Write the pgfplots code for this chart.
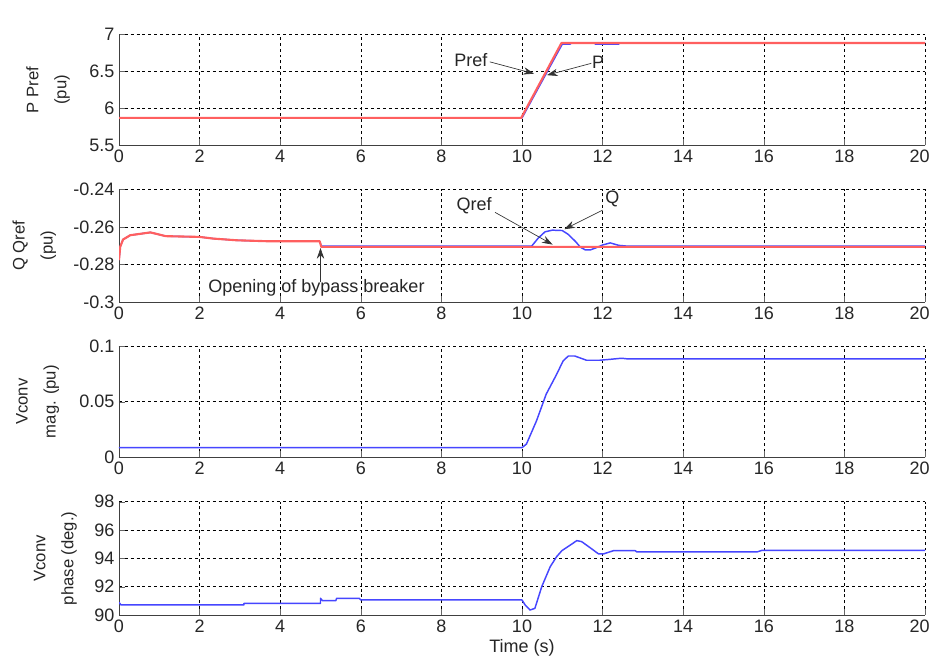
\documentclass[border=0pt]{standalone}
\usepackage{fontspec}
\setmainfont{Liberation Sans}
\usepackage{pgfplots}
\pgfplotsset{compat=1.18}
\usetikzlibrary{arrows.meta}
\definecolor{qblue}{RGB}{70,70,255}
\definecolor{qred}{RGB}{255,95,95}
\tikzset{
  arr/.style={-{Stealth[length=8pt,width=5.5pt]}, black!80, line width=0.5pt},
  ann/.style={font=\fontsize{13.5}{16}\selectfont, text=black!85, inner sep=0pt},
}
\pgfplotsset{
  myax/.style={
    scale only axis, width=604.5pt,
    xmin=0, xmax=20, enlargelimits=false,
    xtick={0,2,4,6,8,10,12,14,16,18,20},
    xticklabels={0,2,4,6,8,10,12,14,16,18,\hspace*{-8pt}20},
    axis x line*=bottom, axis y line*=left,
    axis line style={black!75,-},
    tick align=inside, major tick length=4.5pt,
    tick style={black!60},
    grid=major,
    major grid style={black, dash pattern=on 2.2pt off 2.2pt, line width=0.45pt},
    tick label style={font=\fontsize{13.5}{16}\selectfont, text=black!85},
    ylabel style={font=\fontsize{12.5}{15}\selectfont, align=center, anchor=center, rotate=0, text=black!85},
    xlabel style={font=\fontsize{13.5}{16}\selectfont, text=black!85},
  },
  bl/.style={color=qblue, line width=1.1pt, line join=round},
  rd/.style={color=qred, line width=1.6pt, line join=round},
}
\begin{document}
\begin{tikzpicture}
\fill[white] (0,0) rectangle (699pt,495pt);
\path[use as bounding box] (0,0) rectangle (699pt,495pt);

% Panel 1
\begin{axis}[myax, at={(89.25pt,385.9pt)}, anchor=south west, height=83.25pt,
  ymin=5.5, ymax=7, ytick={5.5,6,6.5,7}, yticklabels={5.5,6,6.5,7},
  ylabel={P Pref\\[6pt](pu)}, ylabel style={at={(axis description cs:-0.088,0.5)}}]
\addplot[bl] coordinates {(0,5.872)(10,5.872)(11.0,6.87)(11.2,6.87)(11.22,6.885)(11.8,6.885)(11.82,6.87)(12.4,6.87)(12.42,6.885)(20,6.885)};
\addplot[rd] coordinates {(0,5.872)(9.98,5.872)(10.98,6.885)(20,6.885)};
\node[ann] at (axis cs:8.73,6.655) {Pref};
\draw[arr] (axis cs:9.2,6.63) -- (axis cs:10.3,6.47);
\node[ann] at (axis cs:11.89,6.625) {P};
\draw[arr] (axis cs:11.72,6.61) -- (axis cs:10.62,6.45);
\end{axis}

% Panel 2
\begin{axis}[myax, at={(89.25pt,268.5pt)}, anchor=south west, height=84.4pt,
  ymin=-0.3, ymax=-0.24, ytick={-0.3,-0.28,-0.26,-0.24}, yticklabels={-0.3,-0.28,-0.26,-0.24},
  ylabel={Q Qref\\[6pt](pu)}, ylabel style={at={(axis description cs:-0.105,0.5)}}]
\addplot[bl] coordinates {(0,-0.2777)(0.03,-0.2706)(0.1,-0.2667)(0.28,-0.2644)(0.78,-0.2629)(1.16,-0.2649)(2.0,-0.2653)(2.34,-0.2662)(2.92,-0.2671)(3.68,-0.2676)(4.98,-0.2676)(5.02,-0.2702)(10.24,-0.2702)(10.4,-0.266)(10.57,-0.2626)(10.75,-0.2617)(11.0,-0.2619)(11.15,-0.264)(11.33,-0.2678)(11.45,-0.2708)(11.57,-0.2722)(11.7,-0.2722)(11.85,-0.271)(12.0,-0.2696)(12.19,-0.2685)(12.4,-0.2698)(12.6,-0.2702)(20,-0.2702)};
\addplot[rd] coordinates {(0,-0.2777)(0.03,-0.2706)(0.1,-0.2667)(0.28,-0.2644)(0.78,-0.2629)(1.16,-0.2649)(2.0,-0.2653)(2.34,-0.2662)(2.92,-0.2671)(3.68,-0.2676)(4.98,-0.2676)(5.02,-0.2706)(20,-0.2706)};
\node[ann] at (axis cs:4.9,-0.2922) {Opening of bypass breaker};
\draw[arr] (axis cs:5.0,-0.2893) -- (axis cs:5.0,-0.2712);
\node[ann] at (axis cs:8.81,-0.2487) {Qref};
\draw[arr] (axis cs:9.33,-0.2522) -- (axis cs:10.76,-0.2694);
\node[ann] at (axis cs:12.24,-0.2452) {Q};
\draw[arr] (axis cs:12.0,-0.251) -- (axis cs:11.05,-0.2612);
\end{axis}

% Panel 3
\begin{axis}[myax, at={(89.25pt,152.0pt)}, anchor=south west, height=83.5pt,
  ymin=0, ymax=0.1, ytick={0,0.05,0.1}, yticklabels={0,0.05,0.1},
  ylabel={Vconv\\[6pt]mag. (pu)}, ylabel style={at={(axis description cs:-0.101,0.5)}}]
\addplot[bl] coordinates {(0,0.0087)(10,0.0087)(10.11,0.0119)(10.36,0.0328)(10.6,0.0567)(10.86,0.0746)(11.02,0.0866)(11.15,0.091)(11.31,0.091)(11.6,0.0872)(11.93,0.0872)(12.18,0.088)(12.47,0.089)(12.6,0.0885)(20,0.0885)};
\end{axis}

% Panel 4
\begin{axis}[myax, at={(89.25pt,33.75pt)}, anchor=south west, height=85pt,
  ymin=90, ymax=98, ytick={90,92,94,96,98}, yticklabels={90,92,94,96,98},
  ylabel={Vconv\\[6pt]phase (deg.)}, ylabel style={at={(axis description cs:-0.079,0.5)}},
  xlabel={Time (s)}, xlabel style={at={(axis description cs:0.5,-0.29)}, anchor=center}]
\addplot[bl] coordinates {(0,90.89)(0.05,90.71)(3.1,90.71)(3.1,90.82)(5.0,90.82)(5.0,91.18)(5.05,91.01)(5.38,91.01)(5.4,91.18)(5.96,91.18)(6.0,91.06)(10.0,91.06)(10.08,90.7)(10.2,90.35)(10.32,90.47)(10.49,92.0)(10.7,93.41)(10.86,94.12)(10.99,94.54)(11.2,94.94)(11.36,95.25)(11.48,95.18)(11.69,94.75)(11.9,94.31)(12.02,94.31)(12.27,94.54)(12.81,94.54)(12.85,94.45)(15.83,94.45)(15.95,94.56)(20,94.56)};
\end{axis}
\end{tikzpicture}
\end{document}
